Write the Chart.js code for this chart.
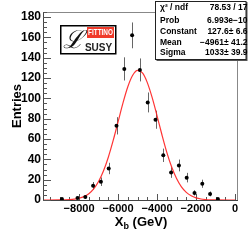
<!DOCTYPE html>
<html>
<head>
<meta charset="utf-8">
<script src="https://cdn.jsdelivr.net/npm/chart.js@4.4.1/dist/chart.umd.min.js"></script>
<style>
  html, body { margin: 0; padding: 0; background: #fff; }
  #wrap { width: 251px; height: 242px; position: relative; }
</style>
</head>
<body>
<div id="wrap"><canvas id="c"></canvas></div>
<script>
// histogram bins (bin centre, entries, error)
var binCenters = [-8880, -8080, -7680, -7280, -6880, -6480, -6080, -5680, -5280, -4880,
                  -4480, -4080, -3680, -3280, -2880, -2480, -2080, -1680, -1280, -880];
var entries = [1, 2, 3, 14, 18, 31, 73, 129, 162, 128, 96, 79, 44, 27, 34, 22, 7, 16, 6, 1];
var errors = [1, 1.4, 1.7, 3.7, 4.2, 5.6, 8.5, 11.4, 12.7, 11.3, 9.8, 8.9, 6.6, 5.2, 5.8, 4.7, 2.6, 4, 2.4, 1];

// gaussian fit curve
var fitX = [-9800, -9000, -8750, -8500, -8250, -8000, -7750, -7500, -7250, -7000, -6750, -6500,
            -6250, -6000, -5750, -5500, -5250, -5000, -4750, -4500, -4250, -4000, -3750, -3500,
            -3250, -3000, -2750, -2500, -2250, -2000, -1750, -1500, -1250, -1000, 0];
var fitY = [0, 0.03, 0.15, 0.36, 0.8, 1.7, 3.3, 6.2, 11, 18.2, 28.5, 42.1,
            58.6, 76.9, 95.3, 111.4, 122.7, 127.5, 125, 115.5, 100.7, 82.8, 64.2, 46.9,
            32.4, 21.1, 12.9, 7.5, 4.1, 2.1, 1.0, 0.47, 0.2, 0.08, 0];

// stats box
var statNames = ['χ² / ndf', 'Prob', 'Constant', 'Mean', 'Sigma'];
var statValues = ['78.53 / 17', '6.993e\u221210', '127.6\u00b1 6.6', '\u22124961\u00b1 41.2', '1033\u00b1 39.9'];

// axis ticks
var xTickValues = [-8000, -6000, -4000, -2000, 0];
var yTickValues = [0, 20, 40, 60, 80, 100, 120, 140, 160, 180];
var xRange = [-9850, 100];
var yRange = [0, 185];
var xMinorStep = 500, yMinorStep = 5;

var pts = binCenters.map(function(x, i){ return {x: x, y: entries[i]}; });
var fitPts = fitX.map(function(x, i){ return {x: x, y: fitY[i]}; });

var FONT = '"Liberation Sans", Arial, Helvetica, sans-serif';

var errorBars = {
  id: 'errorBars',
  beforeDatasetsDraw: function(chart){
    var ctx = chart.ctx, xs = chart.scales.x, ys = chart.scales.y;
    ctx.save();
    ctx.strokeStyle = '#666';
    ctx.lineWidth = 1;
    binCenters.forEach(function(x, i){
      var px = Math.round(xs.getPixelForValue(x)) + 0.5;
      ctx.beginPath();
      ctx.moveTo(px, ys.getPixelForValue(entries[i] - errors[i]));
      ctx.lineTo(px, ys.getPixelForValue(entries[i] + errors[i]));
      ctx.stroke();
    });
    ctx.restore();
  }
};

var frame = {
  id: 'frame',
  beforeDatasetsDraw: function(chart){
    var ctx = chart.ctx, a = chart.chartArea, xs = chart.scales.x, ys = chart.scales.y;
    ctx.save();
    ctx.lineWidth = 1;
    ctx.strokeStyle = '#888';
    ctx.beginPath();
    ctx.moveTo(a.left, a.top + 0.5); ctx.lineTo(a.right + 0.5, a.top + 0.5);
    ctx.lineTo(a.right + 0.5, a.bottom);
    ctx.stroke();
    // inward ticks
    ctx.strokeStyle = '#555';
    ctx.beginPath();
    var v, p, len;
    for (v = 0; v <= yRange[1]; v += yMinorStep) {
      p = Math.round(ys.getPixelForValue(v)) + 0.5;
      len = (yTickValues.indexOf(v) >= 0) ? 8 : 4;
      ctx.moveTo(a.left, p); ctx.lineTo(a.left + len, p);
    }
    for (v = -9500; v <= 0; v += xMinorStep) {
      p = Math.round(xs.getPixelForValue(v)) + 0.5;
      len = (xTickValues.indexOf(v) >= 0) ? 6 : 3;
      ctx.moveTo(p, a.bottom); ctx.lineTo(p, a.bottom - len);
    }
    ctx.stroke();
    ctx.restore();
  }
};

var overlay = {
  id: 'overlay',
  afterDraw: function(chart){
    var ctx = chart.ctx;
    ctx.save();
    // x title with subscript
    ctx.fillStyle = '#000';
    ctx.textBaseline = 'alphabetic';
    var t1 = 'X', t3 = ' (GeV)';
    ctx.font = 'bold 9px ' + FONT;
    var wb = ctx.measureText('b').width;
    ctx.font = 'bold 13px ' + FONT;
    var w1 = ctx.measureText(t1).width, w3 = ctx.measureText(t3).width;
    var x0 = 141 - (w1 + wb + w3) / 2, yb = 226;
    ctx.fillText(t1, x0, yb);
    ctx.font = 'bold 9px ' + FONT;
    ctx.fillText('b', x0 + w1, yb + 3);
    ctx.font = 'bold 13px ' + FONT;
    ctx.fillText(t3, x0 + w1 + wb, yb);

    // logo
    ctx.fillStyle = '#fff';
    ctx.fillRect(60, 25, 56, 29);
    ctx.strokeStyle = '#000';
    ctx.lineWidth = 1.5;
    ctx.strokeRect(60.75, 25.75, 55, 28);
    ctx.fillStyle = '#f03a2a';
    ctx.fillRect(87, 27, 27, 11);
    ctx.fillStyle = '#fff';
    ctx.font = 'bold 8px ' + FONT;
    ctx.textAlign = 'center';
    ctx.textBaseline = 'middle';
    ctx.save();
    ctx.translate(100.5, 32.8);
    ctx.scale(0.8, 1.15);
    ctx.fillText('FITTINO', 0, 0);
    ctx.restore();
    ctx.fillStyle = '#222';
    ctx.font = 'bold 10px ' + FONT;
    ctx.fillText('SUSY', 98.5, 48.3);
    ctx.fillStyle = '#111';
    ctx.font = 'italic 25px "DejaVu Serif", serif';
    ctx.fillText('\u2112', 73, 41);

    // stats box
    ctx.fillStyle = '#555';
    ctx.fillRect(156.5, 2, 91, 59);
    ctx.fillStyle = '#fff';
    ctx.fillRect(155.5, 1, 90.5, 58);
    ctx.strokeStyle = '#222';
    ctx.lineWidth = 1;
    ctx.strokeRect(155.5, 1.5, 90.5, 58);
    ctx.fillStyle = '#000';
    ctx.font = 'bold 8.5px ' + FONT;
    ctx.textBaseline = 'middle';
    var rows = [8, 20.5, 32, 42.5, 53];
    statNames.forEach(function(n, i){
      ctx.textAlign = 'left';
      ctx.fillText(n, 160, rows[i]);
      ctx.textAlign = 'right';
      ctx.fillText(statValues[i], 247.5, rows[i]);
    });
    ctx.restore();
  }
};

new Chart(document.getElementById('c'), {
  type: 'scatter',
  data: {
    datasets: [{
      label: 'fit',
      type: 'line',
      data: fitPts,
      borderColor: 'rgba(255,30,30,0.9)',
      borderWidth: 1.2,
      pointRadius: 0,
      fill: false,
      cubicInterpolationMode: 'monotone',
      order: 2
    }, {
      label: 'data',
      data: pts,
      backgroundColor: '#000',
      borderColor: '#000',
      pointRadius: 2,
      pointBorderWidth: 0,
      order: 1
    }]
  },
  options: {
    responsive: true,
    maintainAspectRatio: false,
    animation: false,
    layout: { padding: { top: 12, right: 14, left: 0, bottom: 0 } },
    plugins: { legend: { display: false }, tooltip: { enabled: false } },
    scales: {
      x: {
        type: 'linear',
        min: xRange[0],
        max: xRange[1],
        grid: { display: false, drawTicks: false },
        border: { display: true, color: '#444', width: 1 },
        afterBuildTicks: function(s){
          s.ticks = xTickValues.map(function(v){ return {value: v}; });
        },
        ticks: {
          padding: 2,
          maxRotation: 0,
          autoSkip: false,
          color: '#000',
          font: { family: FONT, weight: 'bold', size: 11 },
          callback: function(v){ return v === 0 ? '0' : '\u2212' + Math.abs(v); }
        },
        afterFit: function(s){ s.height = 42; }
      },
      y: {
        min: yRange[0],
        max: yRange[1],
        grid: { display: false, drawTicks: false },
        border: { display: true, color: '#444', width: 1 },
        title: {
          display: true,
          text: 'Entries',
          color: '#000',
          font: { family: FONT, weight: 'bold', size: 13 },
          padding: { top: 10, bottom: 0 }
        },
        afterBuildTicks: function(s){
          s.ticks = yTickValues.map(function(v){ return {value: v}; });
        },
        ticks: {
          padding: 2,
          autoSkip: false,
          color: '#000',
          font: { family: FONT, weight: 'bold', size: 12 }
        },
        afterFit: function(s){ s.width = 43; }
      }
    }
  },
  plugins: [errorBars, frame, overlay]
});
</script>
</body>
</html>
